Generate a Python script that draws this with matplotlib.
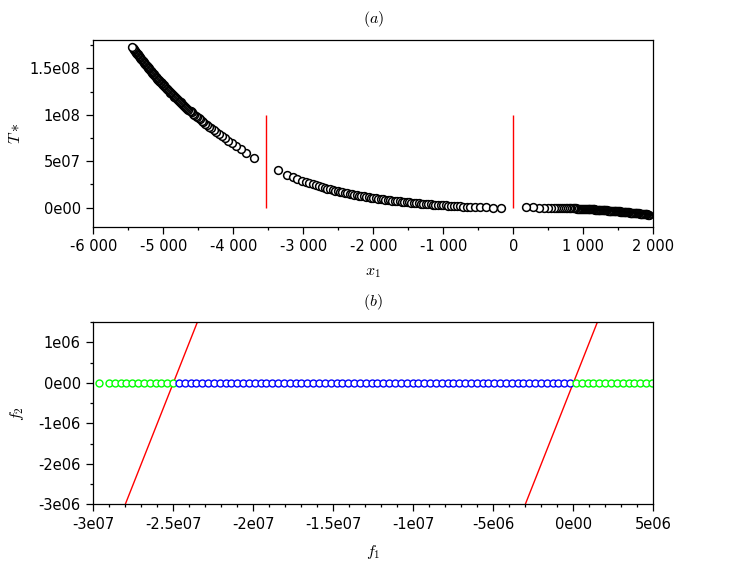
import numpy as np
import matplotlib
matplotlib.use('Agg')
import matplotlib.pyplot as plt
import matplotlib.ticker as mticker

plt.rcParams['mathtext.fontset'] = 'cm'
plt.rcParams['font.family'] = 'DejaVu Sans'

# ---- panel (a): T* over x1, three branches (T* in units of 1e7)
x1_left = [-5451, -5440, -5432, -5424, -5416, -5408, -5400, -5392, -5384, -5376,
           -5368, -5360, -5352, -5344, -5336, -5328, -5320, -5312, -5304, -5296,
           -5288, -5280, -5272, -5264, -5256, -5248, -5240, -5232, -5224, -5216,
           -5208, -5200, -5191, -5182, -5173, -5164, -5155, -5146, -5137, -5128,
           -5119, -5110, -5101, -5092, -5083, -5074, -5065, -5055, -5045, -5035,
           -5025, -5015, -5005, -4995, -4985, -4975, -4965, -4954, -4943, -4932,
           -4921, -4910, -4899, -4888, -4877, -4865, -4853, -4841, -4829, -4817,
           -4805, -4793, -4780, -4767, -4754, -4741, -4728, -4714, -4700, -4686,
           -4671, -4656, -4641, -4625, -4609, -4592, -4575, -4557, -4538, -4518,
           -4497, -4475, -4452, -4428, -4402, -4375, -4346, -4315, -4282, -4248,
           -4211, -4168, -4125, -4076, -4025, -3962, -3896, -3819, -3700]
T_left = [17.35, 17.24, 17.16, 17.08, 17.00, 16.92, 16.84, 16.76, 16.68, 16.60,
          16.52, 16.44, 16.37, 16.29, 16.21, 16.13, 16.06, 15.98, 15.90, 15.83,
          15.75, 15.68, 15.60, 15.52, 15.45, 15.37, 15.30, 15.22, 15.15, 15.07,
          15.00, 14.92, 14.84, 14.76, 14.68, 14.60, 14.52, 14.44, 14.36, 14.28,
          14.20, 14.12, 14.04, 13.96, 13.88, 13.80, 13.72, 13.64, 13.56, 13.48,
          13.40, 13.32, 13.24, 13.16, 13.08, 13.00, 12.92, 12.83, 12.74, 12.65,
          12.57, 12.48, 12.40, 12.31, 12.23, 12.14, 12.05, 11.96, 11.87, 11.78,
          11.69, 11.60, 11.51, 11.42, 11.33, 11.24, 11.15, 11.05, 10.95, 10.87,
          10.77, 10.67, 10.57, 10.46, 10.36, 10.25, 10.14, 10.02, 9.90, 9.77,
          9.63, 9.50, 9.36, 9.22, 9.06, 8.91, 8.74, 8.56, 8.37, 8.17,
          7.96, 7.72, 7.49, 7.22, 6.93, 6.60, 6.27, 5.91, 5.39]

x1_mid = [-3366, -3233, -3152, -3086, -3024, -2967, -2915, -2866, -2820, -2776,
          -2734, -2694, -2655, -2617, -2580, -2544, -2509, -2475, -2441, -2407,
          -2373, -2339, -2305, -2271, -2237, -2203, -2169, -2135, -2101, -2067,
          -2033, -1999, -1965, -1931, -1897, -1863, -1829, -1795, -1761, -1727,
          -1693, -1659, -1625, -1591, -1557, -1523, -1489, -1455, -1421, -1387,
          -1353, -1319, -1285, -1251, -1217, -1182, -1147, -1112, -1076, -1040,
          -1003, -966, -928, -889, -849, -807, -763, -717, -668, -613,
          -547, -476, -394, -294, -180]
T_mid = [4.06, 3.56, 3.28, 3.07, 2.90, 2.75, 2.62, 2.50, 2.39, 2.29,
         2.20, 2.12, 2.04, 1.96, 1.89, 1.82, 1.76, 1.71, 1.65, 1.60,
         1.54, 1.49, 1.44, 1.39, 1.35, 1.30, 1.26, 1.21, 1.17, 1.13,
         1.09, 1.05, 1.01, 0.97, 0.94, 0.90, 0.87, 0.83, 0.80, 0.77,
         0.74, 0.71, 0.68, 0.65, 0.62, 0.59, 0.57, 0.54, 0.52, 0.49,
         0.47, 0.45, 0.42, 0.40, 0.38, 0.36, 0.34, 0.32, 0.30, 0.28,
         0.26, 0.24, 0.22, 0.20, 0.18, 0.16, 0.14, 0.12, 0.10, 0.08,
         0.06, 0.045, 0.03, 0.015, 0.005]

x1_right = [177, 286, 371, 438, 491, 538, 577, 612, 644, 673,
            700, 725, 748, 770, 791, 811, 830, 848, 865, 882,
            898, 914, 929, 944, 958, 972, 986, 999, 1012, 1025,
            1038, 1050, 1062, 1074, 1086, 1098, 1110, 1122, 1134, 1146,
            1158, 1170, 1182, 1194, 1206, 1218, 1230, 1242, 1254, 1266,
            1278, 1290, 1302, 1314, 1326, 1338, 1350, 1362, 1374, 1386,
            1398, 1410, 1422, 1434, 1446, 1458, 1470, 1482, 1494, 1506,
            1518, 1530, 1542, 1554, 1566, 1578, 1590, 1602, 1614, 1626,
            1638, 1650, 1662, 1674, 1686, 1698, 1710, 1722, 1734, 1746,
            1758, 1770, 1782, 1794, 1806, 1818, 1830, 1842, 1854, 1866,
            1878, 1890, 1902, 1914, 1926, 1940]
T_right = [0.04, 0.03, 0.02, 0.01, 0.00, -0.01, -0.01, -0.02, -0.02, -0.03,
           -0.03, -0.04, -0.04, -0.05, -0.05, -0.06, -0.06, -0.07, -0.07, -0.08,
           -0.08, -0.09, -0.09, -0.10, -0.10, -0.11, -0.11, -0.12, -0.12, -0.13,
           -0.13, -0.14, -0.14, -0.15, -0.15, -0.16, -0.16, -0.17, -0.18, -0.18,
           -0.19, -0.20, -0.20, -0.21, -0.22, -0.22, -0.23, -0.24, -0.25, -0.25,
           -0.26, -0.27, -0.28, -0.28, -0.29, -0.30, -0.31, -0.31, -0.32, -0.33,
           -0.34, -0.34, -0.35, -0.36, -0.37, -0.37, -0.38, -0.39, -0.40, -0.41,
           -0.41, -0.42, -0.43, -0.44, -0.45, -0.46, -0.46, -0.47, -0.48, -0.49,
           -0.50, -0.51, -0.52, -0.53, -0.54, -0.55, -0.56, -0.57, -0.58, -0.59,
           -0.60, -0.60, -0.61, -0.62, -0.63, -0.64, -0.65, -0.66, -0.67, -0.68,
           -0.69, -0.70, -0.72, -0.73, -0.74, -0.76]

x1_poles = [-3533, 0]
pole_top = 1e8

# ---- panel (b): f1 positions of the points (units of 1e6), f2 = 0
f1_green_left = [-29.66, -29.03, -28.67, -28.30, -27.94, -27.57, -27.21, -26.84,
                 -26.48, -26.11, -25.75, -25.38, -25.02]
f1_blue = [-24.65, -24.29, -23.92, -23.56, -23.19, -22.83, -22.46, -22.10, -21.73,
           -21.37, -21.00, -20.64, -20.27, -19.91, -19.54, -19.18, -18.81, -18.45,
           -18.08, -17.72, -17.35, -16.99, -16.62, -16.26, -15.89, -15.53, -15.16,
           -14.80, -14.43, -14.07, -13.70, -13.34, -12.97, -12.61, -12.24, -11.88,
           -11.51, -11.15, -10.78, -10.42, -10.05, -9.69, -9.32, -8.96, -8.59,
           -8.23, -7.86, -7.50, -7.13, -6.77, -6.40, -6.04, -5.67, -5.31, -4.94,
           -4.58, -4.21, -3.85, -3.48, -3.12, -2.75, -2.39, -2.02, -1.66, -1.29,
           -0.93, -0.56, -0.20]
f1_green_right = [0.17, 0.53, 0.90, 1.26, 1.63, 1.99, 2.36, 2.72, 3.09, 3.45,
                  3.82, 4.18, 4.55, 4.91]

# red boundary lines f2 = f1 - c (units of 1e6)
line1_f1 = [-28.0, -23.5]
line2_f1 = [-3.0, 1.5]
line_f2 = [-3.0, 1.5]


def sci_fmt(v, pos):
    if abs(v) < 1e-9:
        return '0e00'
    e = int(np.floor(np.log10(abs(v)) + 1e-9))
    m = round(v / 10.0**e, 3)
    return '{:g}e{:02d}'.format(m, e)


def thousands_fmt(v, pos):
    return '{:,.0f}'.format(v).replace(',', ' ')


def style_axis(ax):
    ax.tick_params(which='both', direction='out', top=False, right=False,
                   labelsize=10.5, pad=4)
    ax.tick_params(which='major', length=5, width=0.9)
    ax.tick_params(which='minor', length=2.5, width=0.9)
    for sp in ax.spines.values():
        sp.set_linewidth(0.9)


fig = plt.figure(figsize=(7.47, 5.64), dpi=100)

# top panel
ax1 = fig.add_axes([0.1249, 0.598, 0.7497, 0.331])
ax1.vlines(x1_poles, 0, pole_top, colors='#ff0000', linewidth=1.0, zorder=1)
for xs, ts in [(x1_left[::-1], T_left[::-1]), (x1_mid, T_mid),
               (x1_right[::-1], T_right[::-1])]:
    ax1.plot(xs, np.array(ts) * 1e7, 'o', color='black', mfc='white',
             ms=5.6, mew=1.1, zorder=2)
ax1.set_xlim(-6000, 2000)
ax1.set_ylim(-2.05e7, 1.805e8)
ax1.xaxis.set_major_locator(mticker.MultipleLocator(1000))
ax1.xaxis.set_minor_locator(mticker.MultipleLocator(500))
ax1.yaxis.set_major_locator(mticker.MultipleLocator(5e7))
ax1.yaxis.set_minor_locator(mticker.MultipleLocator(2.5e7))
ax1.xaxis.set_major_formatter(mticker.FuncFormatter(thousands_fmt))
ax1.yaxis.set_major_formatter(mticker.FuncFormatter(sci_fmt))
style_axis(ax1)
ax1.set_xlabel('$x_1$', fontsize=11.5, labelpad=8)
ax1.set_ylabel('$T*$', fontsize=11.5, labelpad=5)
ax1.set_title('$(a)$', fontsize=11.5, pad=12)

# bottom panel
ax2 = fig.add_axes([0.1249, 0.1059, 0.7497, 0.3227])
ax2.plot(np.array(line1_f1) * 1e6, np.array(line_f2) * 1e6, color='#ff0000',
         linewidth=1.0, zorder=1)
ax2.plot(np.array(line2_f1) * 1e6, np.array(line_f2) * 1e6, color='#ff0000',
         linewidth=1.0, zorder=1)
for fs, col in [(f1_green_left, '#00ff00'), (f1_blue, '#0000ff'),
                (f1_green_right, '#00ff00')]:
    ax2.plot(np.array(fs) * 1e6, np.zeros(len(fs)), 'o', color=col,
             mfc='white', ms=5.0, mew=1.0, zorder=2)
ax2.set_xlim(-3e7, 5e6)
ax2.set_ylim(-3e6, 1.5e6)
ax2.xaxis.set_major_locator(mticker.MultipleLocator(5e6))
ax2.xaxis.set_minor_locator(mticker.MultipleLocator(1e6))
ax2.yaxis.set_major_locator(mticker.MultipleLocator(1e6))
ax2.yaxis.set_minor_locator(mticker.MultipleLocator(5e5))
ax2.xaxis.set_major_formatter(mticker.FuncFormatter(sci_fmt))
ax2.yaxis.set_major_formatter(mticker.FuncFormatter(sci_fmt))
style_axis(ax2)
ax2.set_xlabel('$f_1$', fontsize=11.5, labelpad=8)
ax2.set_ylabel('$f_2$', fontsize=11.5, labelpad=9)
ax2.set_title('$(b)$', fontsize=11.5, pad=12)

fig.savefig('out.png', dpi=100)
